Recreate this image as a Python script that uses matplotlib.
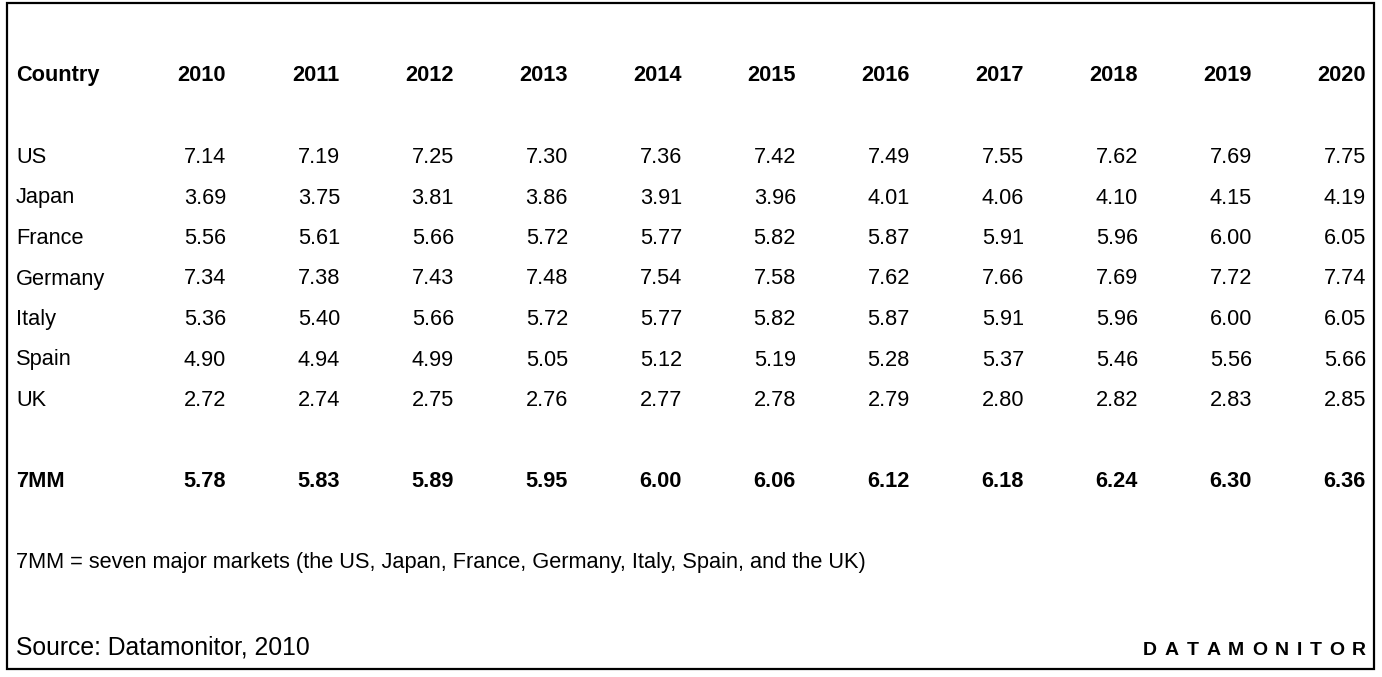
import matplotlib
matplotlib.use("Agg")
from matplotlib import pyplot as plt
from matplotlib.patches import Rectangle

plt.rcParams['font.family'] = ['Liberation Sans', 'DejaVu Sans']

years = ["2010", "2011", "2012", "2013", "2014", "2015", "2016", "2017", "2018", "2019", "2020"]
countries = ["US", "Japan", "France", "Germany", "Italy", "Spain", "UK"]
us = [7.14, 7.19, 7.25, 7.30, 7.36, 7.42, 7.49, 7.55, 7.62, 7.69, 7.75]
japan = [3.69, 3.75, 3.81, 3.86, 3.91, 3.96, 4.01, 4.06, 4.10, 4.15, 4.19]
france = [5.56, 5.61, 5.66, 5.72, 5.77, 5.82, 5.87, 5.91, 5.96, 6.00, 6.05]
germany = [7.34, 7.38, 7.43, 7.48, 7.54, 7.58, 7.62, 7.66, 7.69, 7.72, 7.74]
italy = [5.36, 5.40, 5.66, 5.72, 5.77, 5.82, 5.87, 5.91, 5.96, 6.00, 6.05]
spain = [4.90, 4.94, 4.99, 5.05, 5.12, 5.19, 5.28, 5.37, 5.46, 5.56, 5.66]
uk = [2.72, 2.74, 2.75, 2.76, 2.77, 2.78, 2.79, 2.80, 2.82, 2.83, 2.85]
mm7 = [5.78, 5.83, 5.89, 5.95, 6.00, 6.06, 6.12, 6.18, 6.24, 6.30, 6.36]

footnote = "7MM = seven major markets (the US, Japan, France, Germany, Italy, Spain, and the UK)"
source = "Source: Datamonitor, 2010"
brand = "DATAMONITOR"

rows = [us, japan, france, germany, italy, spain, uk]

W, H = 1382, 677
fig = plt.figure(figsize=(W / 100, H / 100), dpi=100)
ax = fig.add_axes([0, 0, 1, 1])
ax.set_xlim(0, W)
ax.set_ylim(H, 0)
ax.axis("off")

# frame
ax.add_patch(Rectangle((7, 3), 1367, 666, fill=False, lw=1.6, ec="black"))

fs = 15.7
left_x = 16
col_right = [226 + 114.0 * i for i in range(len(years))]
row_base = [163 + 40.5 * i for i in range(len(countries))]

# header
ax.text(left_x, 81, "Country", fontsize=fs, fontweight="bold", va="baseline", ha="left")
for x, yr in zip(col_right, years):
    ax.text(x, 81, yr, fontsize=fs, fontweight="bold", va="baseline", ha="right")

# body
for y, name, vals in zip(row_base, countries, rows):
    ax.text(left_x, y, name, fontsize=fs, va="baseline", ha="left")
    for x, v in zip(col_right, vals):
        ax.text(x, y, f"{v:.2f}", fontsize=fs, va="baseline", ha="right")

# total row
ax.text(left_x, 487, "7MM", fontsize=fs, fontweight="bold", va="baseline", ha="left")
for x, v in zip(col_right, mm7):
    ax.text(x, 487, f"{v:.2f}", fontsize=fs, fontweight="bold", va="baseline", ha="right")

ax.text(left_x, 568, footnote, fontsize=fs, va="baseline", ha="left")
ax.text(left_x, 655, source, fontsize=17.8, va="baseline", ha="left")

# letter-spaced brand mark between x=1143 and x=1366
renderer = fig.canvas.get_renderer()
letters = [ax.text(0, 655, ch, fontsize=14, fontweight="bold", va="baseline", ha="left")
           for ch in brand]
px_per_unit = fig.dpi * fig.get_figwidth() / W
widths = [t.get_window_extent(renderer).width / px_per_unit for t in letters]
x0, x1 = 1143, 1366
gap = (x1 - x0 - sum(widths)) / (len(brand) - 1)
x = x0
for t, w in zip(letters, widths):
    t.set_x(x)
    x += w + gap

fig.savefig("out.png", dpi=100)
